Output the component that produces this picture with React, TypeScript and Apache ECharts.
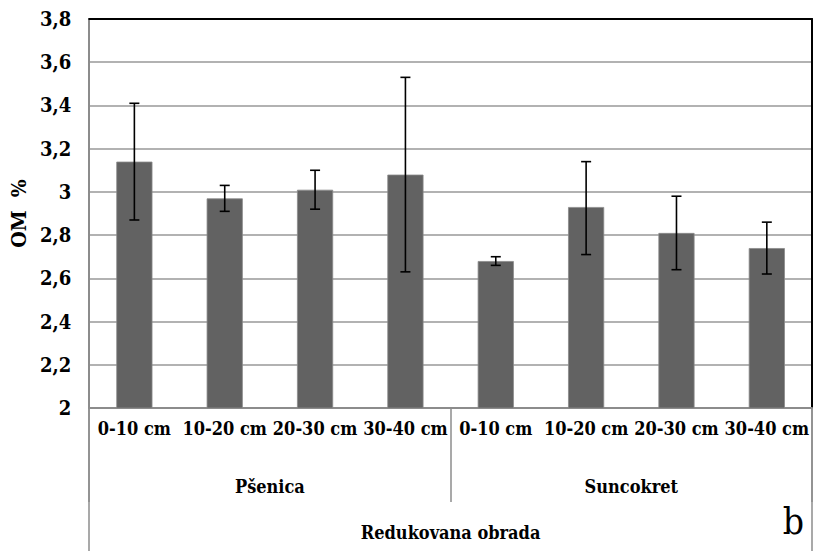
import React, { useEffect, useRef } from "react";
import * as echarts from "echarts";

const depths = ["0-10 cm", "10-20 cm", "20-30 cm", "30-40 cm", "0-10 cm", "10-20 cm", "20-30 cm", "30-40 cm"];
const crops = ["Pšenica", "Suncokret"];
const tillage = ["Redukovana obrada"];
const omValues = [3.14, 2.97, 3.01, 3.08, 2.68, 2.93, 2.81, 2.74];
const errLow = [2.87, 2.91, 2.92, 2.63, 2.66, 2.71, 2.64, 2.62];
const errHigh = [3.41, 3.03, 3.1, 3.53, 2.7, 3.14, 2.98, 2.86];

const FONT = "DejaVu Serif Condensed";
const GRAY = "#8c8c8c";

export default function App() {
  const ref = useRef<HTMLDivElement>(null);
  useEffect(() => {
    if (!ref.current) return;
    const chart = echarts.init(ref.current, null, { renderer: "svg" });
    const errData = depths.map((_, i) => [i, errLow[i], errHigh[i]]);
    chart.setOption({
      animation: false,
      backgroundColor: "#ffffff",
      textStyle: { fontFamily: FONT },
      grid: { left: 89, right: 5, top: 19, bottom: 143, containLabel: false },
      xAxis: [
        {
          type: "category",
          data: depths,
          position: "bottom",
          axisLine: { show: true, lineStyle: { color: GRAY, width: 2 } },
          axisTick: { show: false },
          axisLabel: { interval: 0, margin: 11, color: "#000", fontFamily: FONT, fontWeight: "bold", fontSize: 18 },
        },
        {
          type: "category",
          data: crops,
          position: "bottom",
          axisLine: { show: false },
          axisTick: { show: true, interval: 0, length: 94, lineStyle: { color: GRAY, width: 1.5 } },
          axisLabel: { interval: 0, margin: 69, color: "#000", fontFamily: FONT, fontWeight: "bold", fontSize: 18 },
        },
        {
          type: "category",
          data: tillage,
          position: "bottom",
          axisLine: { show: false },
          axisTick: { show: true, interval: 0, length: 143, lineStyle: { color: GRAY, width: 1.5 } },
          axisLabel: { interval: 0, margin: 115, color: "#000", fontFamily: FONT, fontWeight: "bold", fontSize: 18 },
        },
        {
          type: "category",
          data: depths,
          position: "top",
          axisLine: { show: true, lineStyle: { color: "#000", width: 2 } },
          axisTick: { show: false },
          axisLabel: { show: false },
        },
      ],
      yAxis: [
        {
          type: "value",
          min: 2,
          max: 3.8,
          interval: 0.2,
          name: "OM  %",
          nameLocation: "middle",
          nameRotate: 90,
          nameGap: 52,
          nameTextStyle: { color: "#000", fontFamily: FONT, fontWeight: "bold", fontSize: 21 },
          axisLine: { show: true, lineStyle: { color: GRAY, width: 2 } },
          axisTick: { show: false },
          splitLine: { show: true, lineStyle: { color: "#999999", width: 1.5 } },
          axisLabel: {
            margin: 18,
            color: "#000",
            fontFamily: FONT,
            fontWeight: "bold",
            fontSize: 20,
            formatter: (v: number) => String(+v.toFixed(1)).replace(".", ","),
          },
        },
        {
          type: "value",
          min: 2,
          max: 3.8,
          interval: 0.2,
          position: "right",
          axisLine: { show: true, lineStyle: { color: "#000", width: 2 } },
          axisTick: { show: false },
          splitLine: { show: false },
          axisLabel: { show: false },
        },
      ],
      series: [
        {
          type: "bar",
          data: omValues,
          barWidth: "40%",
          itemStyle: { color: "#626262", borderColor: "#8a8a8a", borderWidth: 0.8 },
          xAxisIndex: 0,
          yAxisIndex: 0,
          z: 2,
        },
        {
          type: "custom",
          xAxisIndex: 0,
          yAxisIndex: 0,
          data: errData,
          z: 3,
          renderItem: (params: any, api: any) => {
            const x = api.value(0);
            const lo = api.coord([x, api.value(1)]);
            const hi = api.coord([x, api.value(2)]);
            const cap = 5;
            const style = { stroke: "#000", lineWidth: 1.6 };
            return {
              type: "group",
              children: [
                { type: "line", shape: { x1: hi[0], y1: hi[1], x2: lo[0], y2: lo[1] }, style },
                { type: "line", shape: { x1: hi[0] - cap, y1: hi[1], x2: hi[0] + cap, y2: hi[1] }, style },
                { type: "line", shape: { x1: lo[0] - cap, y1: lo[1], x2: lo[0] + cap, y2: lo[1] }, style },
              ],
            };
          },
        },
      ],
      graphic: [
        {
          type: "text",
          right: 13,
          bottom: 11,
          style: { text: "b", fontFamily: FONT, fontWeight: "normal", fontSize: 37, fill: "#000" },
        },
      ],
    });
    return () => chart.dispose();
  }, []);
  return <div ref={ref} style={{ width: 817, height: 551, position: "absolute", left: 0, top: 0 }} />;
}
